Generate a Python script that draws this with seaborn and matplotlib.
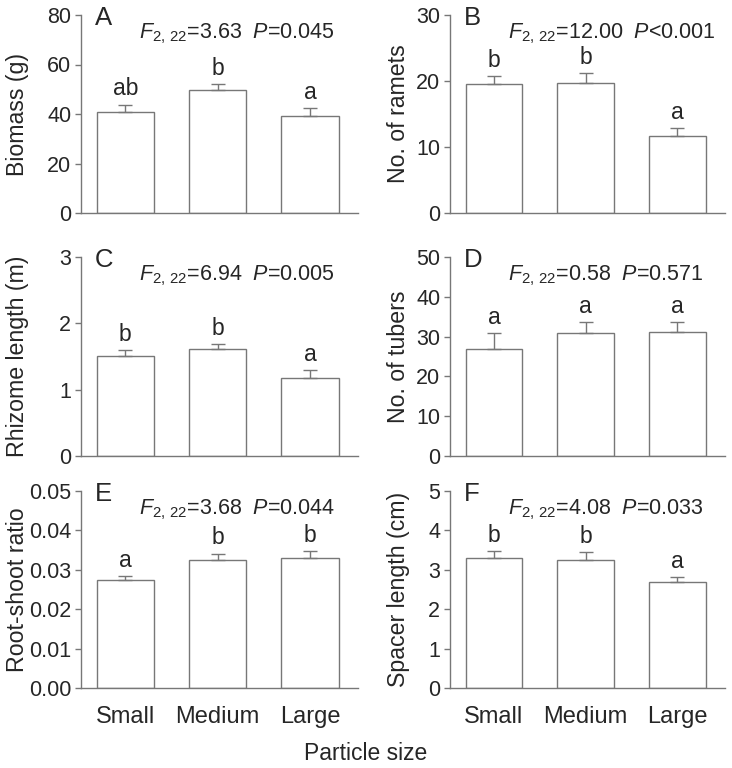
import matplotlib
matplotlib.use("Agg")
import matplotlib.pyplot as plt
import seaborn as sns
import pandas as pd
import numpy as np

sns.set_style("ticks")
plt.rcParams['font.family'] = ['Liberation Sans', 'DejaVu Sans']
plt.rcParams['mathtext.fontset'] = 'custom'
plt.rcParams['mathtext.rm'] = 'Liberation Sans'
plt.rcParams['mathtext.it'] = 'Liberation Sans:italic'

categories = ["Small", "Medium", "Large"]

biomass = [41.0, 49.7, 39.1]
biomass_se = [2.8, 2.3, 3.2]
ramets = [19.5, 19.7, 11.65]
ramets_se = [1.3, 1.5, 1.2]
rhizome = [1.51, 1.62, 1.17]
rhizome_se = [0.09, 0.07, 0.12]
tubers = [26.9, 30.8, 31.2]
tubers_se = [3.9, 2.9, 2.4]
rootshoot = [0.0273, 0.0324, 0.0331]
rootshoot_se = [0.0012, 0.0017, 0.0016]
spacer = [3.30, 3.25, 2.70]
spacer_se = [0.18, 0.20, 0.12]

panels = [
    ("A", "Biomass (g)", biomass, biomass_se, ["ab", "b", "a"], (0, 80), [0, 20, 40, 60, 80], "{:.0f}", "3.63", "=0.045"),
    ("B", "No. of ramets", ramets, ramets_se, ["b", "b", "a"], (0, 30), [0, 10, 20, 30], "{:.0f}", "12.00", "<0.001"),
    ("C", "Rhizome length (m)", rhizome, rhizome_se, ["b", "b", "a"], (0, 3), [0, 1, 2, 3], "{:.0f}", "6.94", "=0.005"),
    ("D", "No. of tubers", tubers, tubers_se, ["a", "a", "a"], (0, 50), [0, 10, 20, 30, 40, 50], "{:.0f}", "0.58", "=0.571"),
    ("E", "Root-shoot ratio", rootshoot, rootshoot_se, ["a", "b", "b"], (0, 0.05), [0, 0.01, 0.02, 0.03, 0.04, 0.05], "{:.2f}", "3.68", "=0.044"),
    ("F", "Spacer length (cm)", spacer, spacer_se, ["b", "b", "a"], (0, 5), [0, 1, 2, 3, 4, 5], "{:.0f}", "4.08", "=0.033"),
]

W, H = 732, 768
fig = plt.figure(figsize=(W / 100, H / 100), dpi=100)

cols = [(81, 358), (450, 725)]
rows = [(15, 213), (257, 456), (491, 688)]
label_x = [29.5, 410]

lc = "#777777"
for i, (letter, ylabel, vals, se, sig, ylim, yticks, fmt, fval, pval) in enumerate(panels):
    r, c = divmod(i, 2)
    x0, x1 = cols[c]
    t, b = rows[r]
    ax = fig.add_axes([x0 / W, 1 - b / H, (x1 - x0) / W, (b - t) / H])
    df = pd.DataFrame({"size": categories, "value": vals})
    sns.barplot(data=df, x="size", y="value", ax=ax, color="white",
                edgecolor=lc, linewidth=1.0, width=0.62, errorbar=None)
    for j, (v, e) in enumerate(zip(vals, se)):
        ax.errorbar(j, v + e / 2, yerr=[[e / 2], [e / 2]], fmt="none",
                    ecolor=lc, elinewidth=1.0, capsize=5, capthick=1.0)
    ax.set_xlim(-0.48, 2.52)
    ax.set_ylim(*ylim)
    ax.set_yticks(yticks)
    ax.set_yticklabels([fmt.format(y) for y in yticks], fontsize=15.5)
    for sp in ["top", "right"]:
        ax.spines[sp].set_visible(False)
    for sp in ["left", "bottom"]:
        ax.spines[sp].set_color(lc)
        ax.spines[sp].set_linewidth(1.0)
    ax.tick_params(axis="y", direction="out", length=4, width=1, color=lc, pad=3)
    ax.tick_params(axis="x", direction="in", length=2, width=1, color=lc, pad=13)
    if r == 2:
        ax.set_xticklabels(categories, fontsize=17)
    else:
        ax.set_xticklabels([])
    ax.set_xlabel("")
    ax.set_ylabel(ylabel, fontsize=16.7)
    ax.yaxis.set_label_coords((label_x[c] - x0) / (x1 - x0), 0.5)
    for j, (v, e, s) in enumerate(zip(vals, se, sig)):
        ax.annotate(s, (j, v + e), xytext=(0, 3), textcoords="offset points",
                    ha="center", va="bottom", fontsize=16.5)
    ax.text(0.05, 0.985, letter, transform=ax.transAxes, ha="left", va="center", fontsize=18.5)
    ax.text(0.21, 0.905, r"$F_{\mathrm{2,\,22}}$=" + fval + r"  $P$" + pval,
            transform=ax.transAxes, ha="left", va="center", fontsize=15.5)

fig.text(366 / W, 3 / H, "Particle size", ha="center", va="bottom", fontsize=16.5)

fig.savefig("out.png", dpi=100, facecolor="white")
